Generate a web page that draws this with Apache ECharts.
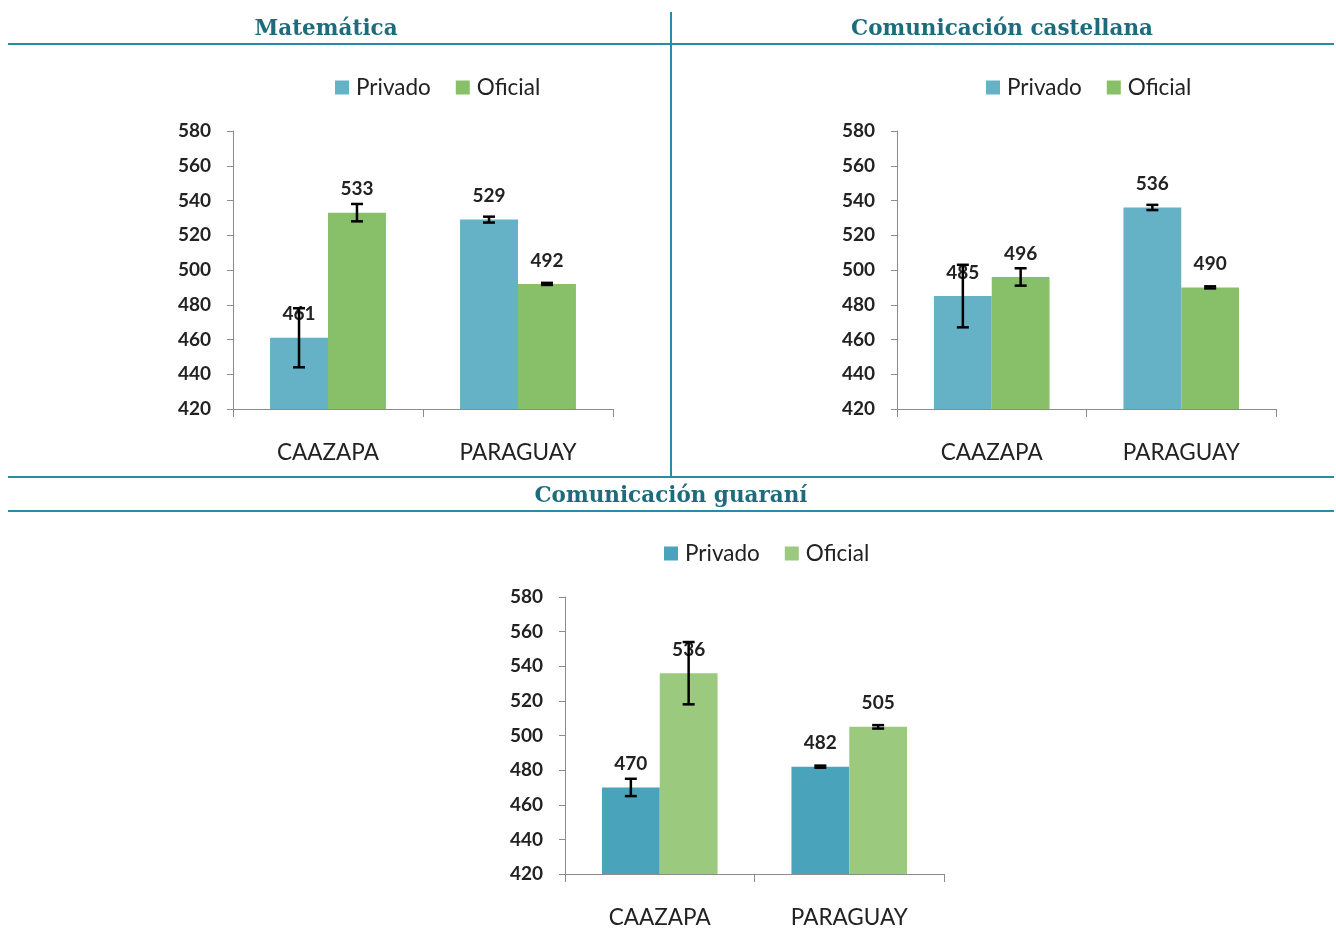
<!DOCTYPE html>
<html>
<head>
<meta charset="utf-8">
<script src="https://cdn.jsdelivr.net/npm/echarts@6/dist/echarts.min.js"></script>
<style>
html,body{margin:0;padding:0;background:#fff;}
#chart{width:1336px;height:929px;}
</style>
</head>
<body>
<div id="chart"></div>
<script>
// ---- data ----
const categories = ['CAAZAPA', 'PARAGUAY'];
const seriesNames = ['Privado', 'Oficial'];
const panelTitles = ['Matemática', 'Comunicación castellana', 'Comunicación guaraní'];
const yTicks = [420, 440, 460, 480, 500, 520, 540, 560, 580];

const matPrivado = [461, 529];
const matOficial = [533, 492];
const matPrivadoErr = [17, 1.7];
const matOficialErr = [5, 0.6];

const casPrivado = [485, 536];
const casOficial = [496, 490];
const casPrivadoErr = [18, 1.5];
const casOficialErr = [5, 0.6];

const guaPrivado = [470, 482];
const guaOficial = [536, 505];
const guaPrivadoErr = [5, 0.6];
const guaOficialErr = [18, 1];

// ---- styling / layout ----
const GAP = 0.39;
const panels = [
  { priv: matPrivado, ofi: matOficial, privErr: matPrivadoErr, ofiErr: matOficialErr,
    grid: { left: 233, top: 131, width: 380, height: 278 }, legend: { left: 335, top: 76 },
    colors: ['#65B1C6', '#87C068'] },
  { priv: casPrivado, ofi: casOficial, privErr: casPrivadoErr, ofiErr: casOficialErr,
    grid: { left: 897, top: 131, width: 379, height: 278 }, legend: { left: 986, top: 76 },
    colors: ['#65B1C6', '#87C068'] },
  { priv: guaPrivado, ofi: guaOficial, privErr: guaPrivadoErr, ofiErr: guaOficialErr,
    grid: { left: 565, top: 597, width: 379, height: 278 }, legend: { left: 664, top: 542 },
    colors: ['#49A4BB', '#9BCA7E'] }
];

const FONT = 'Lato, "Open Sans", sans-serif';

function errRender(sign) {
  return function (params, api) {
    const cat = api.value(0), v = api.value(1), e = api.value(2);
    const bandW = api.size([1, 0])[0];
    const barW = bandW * (1 - GAP) / 2;
    const c = api.coord([cat, v]);
    const x = c[0] + sign * barW / 2;
    const top = api.coord([cat, v + e])[1];
    const bot = api.coord([cat, v - e])[1];
    const cap = 6;
    const st = { stroke: '#000', lineWidth: 2.5 };
    return {
      type: 'group',
      children: [
        { type: 'line', shape: { x1: x, y1: top, x2: x, y2: bot }, style: st },
        { type: 'line', shape: { x1: x - cap, y1: top, x2: x + cap, y2: top }, style: st },
        { type: 'line', shape: { x1: x - cap, y1: bot, x2: x + cap, y2: bot }, style: st }
      ]
    };
  };
}

const grids = [], xAxes = [], yAxes = [], series = [], legends = [];
panels.forEach((p, i) => {
  grids.push(p.grid);
  xAxes.push({
    type: 'category', gridIndex: i, data: categories,
    axisLine: { lineStyle: { color: '#8C8C8C', width: 1 } },
    axisTick: { show: true, length: 8, lineStyle: { color: '#8C8C8C' } },
    axisLabel: { fontFamily: FONT, fontSize: 22.5, color: '#222', margin: 32 }
  });
  yAxes.push({
    type: 'value', gridIndex: i, min: yTicks[0], max: yTicks[yTicks.length - 1], interval: 20,
    axisLine: { show: true, lineStyle: { color: '#8C8C8C', width: 1 } },
    axisTick: { show: true, length: 6, lineStyle: { color: '#8C8C8C' } },
    splitLine: { show: false },
    axisLabel: { fontFamily: FONT, fontSize: 19, fontWeight: 'bold', color: '#222', margin: 22 }
  });
  const vals = [p.priv, p.ofi];
  const errs = [p.privErr, p.ofiErr];
  seriesNames.forEach((name, k) => {
    series.push({
      name: name, type: 'bar', xAxisIndex: i, yAxisIndex: i,
      data: vals[k], barGap: '0%', barCategoryGap: (GAP * 100) + '%',
      itemStyle: { color: p.colors[k] },
      label: { show: true, position: 'top', distance: 14, fontFamily: FONT, fontSize: 19,
        fontWeight: 'bold', color: '#222' },
      z: 2
    });
  });
  seriesNames.forEach((name, k) => {
    series.push({
      type: 'custom', xAxisIndex: i, yAxisIndex: i, z: 10,
      renderItem: errRender(k === 0 ? -1 : 1),
      data: categories.map((c, j) => [j, vals[k][j], errs[k][j]]),
      silent: true
    });
  });
  legends.push({
    left: p.legend.left, top: p.legend.top, padding: 0, itemWidth: 14, itemHeight: 14, itemGap: 25,
    icon: 'rect',
    textStyle: { fontFamily: FONT, fontSize: 22.5, color: '#222', padding: [0, 0, 0, 2] },
    data: seriesNames.map((n, k) => ({ name: n, itemStyle: { color: p.colors[k] } })),
    selectedMode: false
  });
});

const LINE = '#2A8BA6';
const TITLE_COLOR = '#1D6C7C';
const titleFont = 'bold 21.5px "DejaVu Serif", serif';
const graphics = [
  { type: 'line', shape: { x1: 8, y1: 44, x2: 1334, y2: 44 }, style: { stroke: LINE, lineWidth: 2 } },
  { type: 'line', shape: { x1: 671, y1: 12, x2: 671, y2: 477 }, style: { stroke: LINE, lineWidth: 2 } },
  { type: 'line', shape: { x1: 8, y1: 477, x2: 1334, y2: 477 }, style: { stroke: LINE, lineWidth: 2 } },
  { type: 'line', shape: { x1: 8, y1: 511, x2: 1334, y2: 511 }, style: { stroke: LINE, lineWidth: 2 } },
  { type: 'text', x: 326, y: 29, style: { text: panelTitles[0], font: titleFont, fill: TITLE_COLOR, textAlign: 'center', textVerticalAlign: 'middle' } },
  { type: 'text', x: 1002, y: 29, style: { text: panelTitles[1], font: titleFont, fill: TITLE_COLOR, textAlign: 'center', textVerticalAlign: 'middle' } },
  { type: 'text', x: 671, y: 496, style: { text: panelTitles[2], font: titleFont, fill: TITLE_COLOR, textAlign: 'center', textVerticalAlign: 'middle' } }
];

const chart = echarts.init(document.getElementById('chart'), null, { renderer: 'canvas' });
chart.setOption({
  animation: false,
  backgroundColor: '#fff',
  grid: grids, xAxis: xAxes, yAxis: yAxes, legend: legends, series: series,
  graphic: graphics
});
</script>
</body>
</html>
